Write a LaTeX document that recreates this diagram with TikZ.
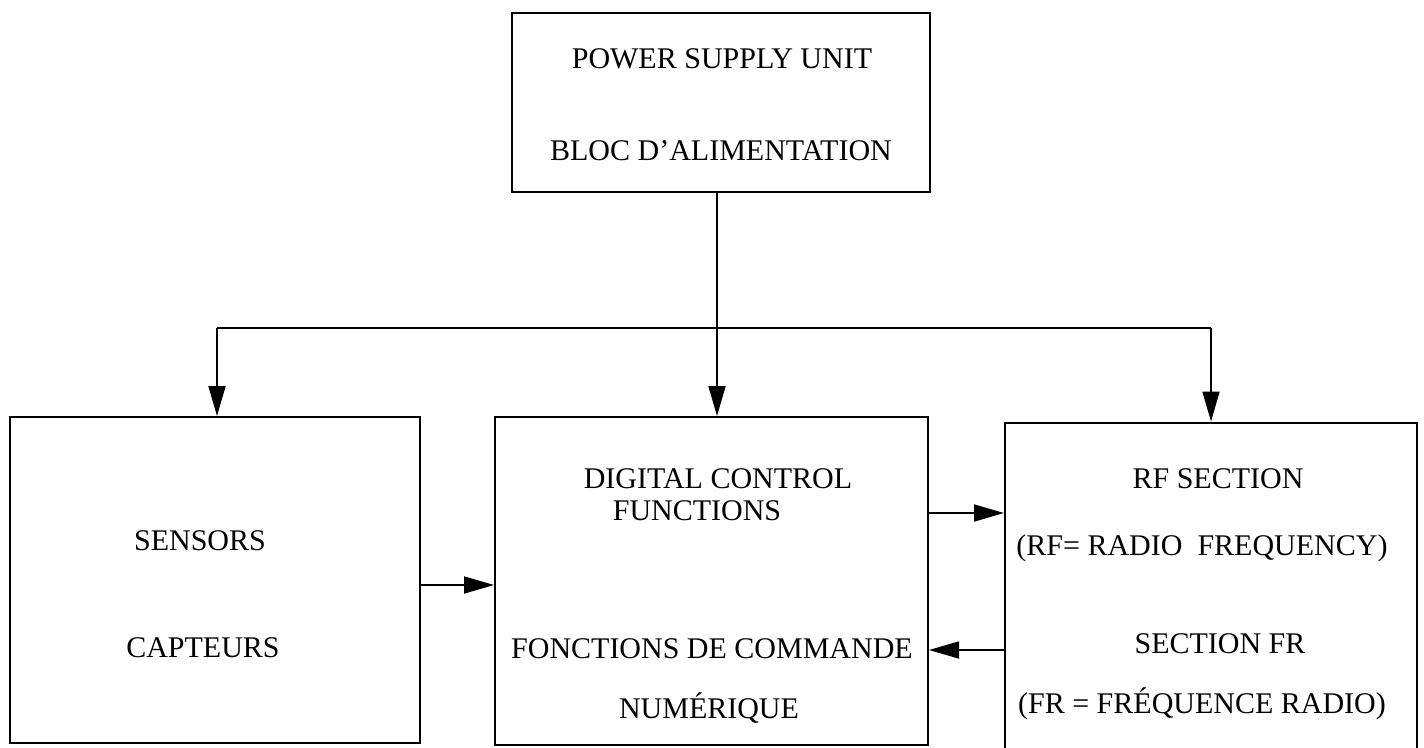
\documentclass[tikz,border=0pt]{standalone}
\usepackage{fontspec}
\setmainfont{Liberation Serif}
\usetikzlibrary{arrows.meta}
\begin{document}
\begin{tikzpicture}[x=1pt,y=-1pt,
  blk/.style={draw, line width=2pt, inner sep=0pt},
  lbl/.style={anchor=base, inner sep=0pt, font=\fontsize{30}{34}\selectfont},
  wire/.style={line width=1.8pt},
  arr/.style={wire, -{Triangle[length=30pt,width=17pt]}}]
\useasboundingbox (0,0) rectangle (1424,747);
% boxes
\node[blk, minimum width=418pt, minimum height=179pt] (psu) at (721,102.5) {};
\node[blk, minimum width=410pt, minimum height=326pt] (sen) at (215,580) {};
\node[blk, minimum width=433pt, minimum height=328pt] (dig) at (711.5,581) {};
\node[blk, minimum width=412pt, minimum height=327pt] (rf) at (1211,586) {};
% texts
\node[lbl] (t1) at (722,68) {POWER SUPPLY UNIT};
\node[lbl] (t2) at (721,160) {BLOC D'ALIMENTATION};
\node[lbl] (t3) at (200,550) {SENSORS};
\node[lbl] (t4) at (203,657) {CAPTEURS};
\node[lbl] (t5) at (718,488) {DIGITAL CONTROL};
\node[lbl] (t6) at (697,520) {FUNCTIONS};
\node[lbl] (t7) at (712,658) {FONCTIONS DE COMMANDE};
\node[lbl] (t8) at (709,718) {NUMÉRIQUE};
\node[lbl] (t9) at (1218,488) {RF SECTION};
\node[lbl] (t10) at (1202,555) {(RF= RADIO\ \ FREQUENCY)};
\node[lbl] (t11) at (1220,653) {SECTION FR};
\node[lbl] (t12) at (1202,713) {(FR = FRÉQUENCE RADIO)};
% bus
\coordinate (busL) at (217,328);
\coordinate (busM) at (717,328);
\coordinate (busR) at (1211,328);
\coordinate (h1) at (0,585);
\coordinate (h2) at (0,513);
\coordinate (h3) at (0,650);
\draw[wire] (psu.south -| busM) -- (busM);
\draw[wire] (busL) -- (busR);
\draw[arr] (busL) -- (sen.north -| busL);
\draw[arr] (busM) -- (dig.north -| busM);
\draw[arr] (busR) -- (rf.north -| busR);
\draw[arr] (sen.east |- h1) -- (dig.west |- h1);
\draw[arr] (dig.east |- h2) -- (rf.west |- h2);
\draw[arr] (rf.west |- h3) -- (dig.east |- h3);
\end{tikzpicture}
\end{document}
